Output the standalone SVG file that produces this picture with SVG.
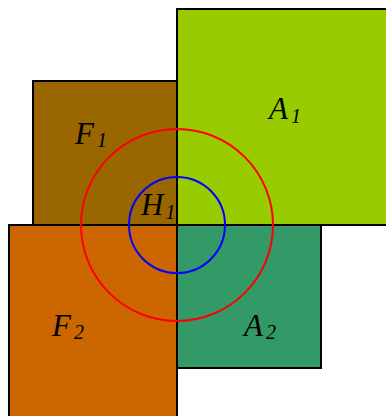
<svg xmlns="http://www.w3.org/2000/svg" width="386" height="416" viewBox="0 0 386 416">
<style>
.sq{stroke:#000;stroke-width:2}
.lb{font-family:"Liberation Serif",serif;font-style:italic;font-size:31px;fill:#000}
.sb{font-size:20px}
.ring{fill:none;stroke-width:2}
</style>
<rect width="386" height="416" fill="#fff"/>
<g id="A1"><rect class="sq" x="177" y="9" width="210" height="216" fill="#99cc00"/><text class="lb" x="269" y="119">A<tspan class="sb" dx="3" dy="4">1</tspan></text></g>
<g id="F1"><rect class="sq" x="33" y="81" width="144" height="144" fill="#996600"/><text class="lb" x="75" y="144">F<tspan class="sb" dx="3" dy="3">1</tspan></text></g>
<g id="F2"><rect class="sq" x="9" y="225" width="168" height="200" fill="#cc6600"/><text class="lb" x="52" y="336">F<tspan class="sb" dx="3" dy="3">2</tspan></text></g>
<g id="A2"><rect class="sq" x="177" y="225" width="144" height="143" fill="#339966"/><text class="lb" x="244" y="336">A<tspan class="sb" dx="3" dy="3">2</tspan></text></g>
<g id="H1"><text class="lb" x="141" y="215">H<tspan class="sb" dx="2" dy="4">1</tspan></text></g>
<g id="circles"><circle class="ring" cx="177" cy="225" r="96" stroke="#ff0000"/><circle class="ring" cx="177" cy="225" r="48" stroke="#0000ff"/></g>
</svg>
